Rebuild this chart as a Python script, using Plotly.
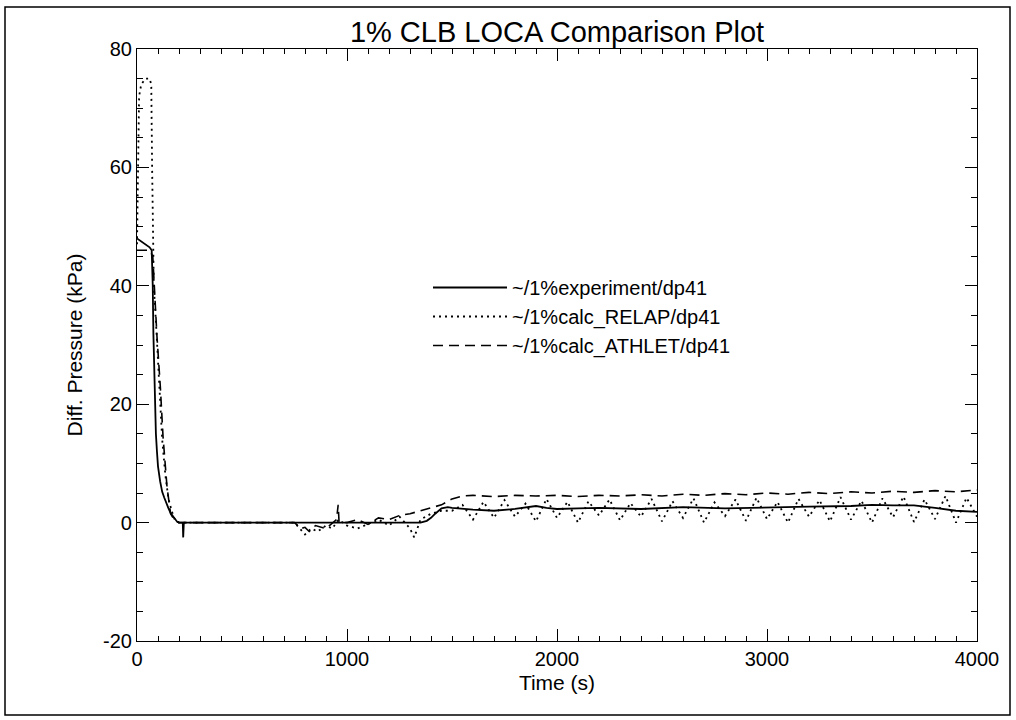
import plotly.graph_objects as go

# ---- data ----
exp_t = [0, 20, 40, 60, 70, 75, 78, 82, 86, 90, 95, 100, 110, 120, 130, 140, 150, 160, 175, 190, 200, 218, 220, 223, 250,
         500, 800, 1000, 1200, 1300, 1350, 1380, 1400, 1420, 1450, 1480, 1500, 1600, 1700, 1800, 1900, 1950, 2000,
         2100, 2200, 2400, 2600, 2800, 3000, 3200, 3400, 3500, 3600, 3700, 3800, 3900, 4000]
exp_v = [48, 47.5, 47, 46.5, 46, 40, 32, 24, 19, 15, 12, 9.5, 7, 5.2, 4.2, 3.2, 2.4, 1.6, 0.8, 0.2, 0, 0, -2.5, 0, 0,
         0, 0, 0, 0, 0, 0, 0.3, 0.8, 1.5, 2.4, 2.6, 2.5, 2.2, 2.0, 2.3, 2.8, 2.5, 2.3,
         2.4, 2.5, 2.3, 2.6, 2.4, 2.6, 2.7, 2.8, 3.0, 2.9, 2.9, 2.5, 2.0, 1.8]

athlet_t = [0, 60, 75, 85, 95, 111, 124, 143, 160, 180, 200, 750, 780, 800, 820, 850, 900, 950, 958, 962, 966, 1000,
            1050, 1100, 1150, 1200, 1250, 1300, 1350, 1400, 1450, 1500, 1550, 1600, 1700, 1800, 1900, 2000, 2100,
            2200, 2300, 2400, 2500, 2600, 2700, 2800, 2900, 3000, 3100, 3200, 3300, 3400, 3500, 3600, 3700, 3800,
            3900, 4000]
athlet_v = [46, 46, 45, 38, 31.5, 23, 14.5, 6, 1.5, 0.3, 0, 0, -1, -0.8, -1.5, -0.5, -1, 0.5, 3, 0.2, 0.2, 0,
            0.5, -0.3, 0.8, 0.5, 1.2, 1.5, 2.0, 2.5, 3.0, 4.0, 4.5, 4.6, 4.4, 4.6, 4.5, 4.6, 4.4,
            4.6, 4.5, 4.7, 4.5, 4.8, 4.6, 4.9, 4.7, 5.0, 4.8, 5.1, 4.9, 5.2, 5.0, 5.3, 5.1, 5.4,
            5.2, 5.5]

relap_t = [0, 5, 10, 20, 40, 60, 68, 72, 76, 80, 90, 100, 110, 120, 135, 150, 165, 180, 200, 750, 780, 800, 830, 860,
           900, 930, 960, 1000, 1050, 1100, 1150, 1200, 1250, 1300, 1320, 1350, 1400, 1450, 1500, 1550,
           1600, 1650, 1700, 1750, 1800, 1850, 1900, 1950, 2000, 2050, 2100, 2150, 2200, 2250, 2300, 2350,
           2400, 2450, 2500, 2550, 2600, 2650, 2700, 2750, 2800, 2850, 2900, 2950, 3000, 3050, 3100, 3150,
           3200, 3250, 3300, 3350, 3400, 3450, 3500, 3550, 3600, 3650, 3700, 3750, 3800, 3850, 3900, 3950, 4000]
relap_v = [47, 60, 72, 74, 75, 75, 74, 60, 45, 40, 34, 27, 20, 14, 8, 4, 2, 0.5, 0, 0, -1.2, -2, -1, -1.5,
           -0.5, -1, 0.5, -0.5, -1, -0.2, 0.5, -0.5, 1, -1, -2.5, 0.5, 1.5, 2.0, 2.0, 3.0,
           0.5, 3.5, 0.8, 3.8, 1.0, 3.2, 0.2, 4.0, 0.8, 3.5, 0.0, 3.6, 1.2, 3.9, 0.4, 3.3,
           1.0, 4.0, 0.2, 3.6, 0.8, 4.1, 0.0, 3.4, 1.1, 3.9, 0.3, 4.2, 0.6, 3.5, 0.0, 4.0,
           1.0, 3.8, 0.2, 4.3, 0.5, 3.7, 0.0, 4.1, 0.9, 4.4, 0.1, 3.9, 0.6, 4.5, 0.0, 4.2, 1.0]

series_names = ["~/1%experiment/dp41", "~/1%calc_RELAP/dp41", "~/1%calc_ATHLET/dp41"]
x_ticks = [0, 1000, 2000, 3000, 4000]
y_ticks = [-20, 0, 20, 40, 60, 80]

FONT = "Arial, Liberation Sans, Helvetica, sans-serif"

W, H = 1016, 720
PL, PR, PT, PB = 137, 977, 49, 641          # plot area in page pixels
pw, ph = PR - PL, PB - PT


def px_x(p):
    return (p - PL) / pw


def px_y(p):
    return (PB - p) / ph


fig = go.Figure()
fig.add_trace(go.Scatter(x=exp_t, y=exp_v, mode="lines", name=series_names[0],
                         line=dict(color="black", width=1.8)))
fig.add_trace(go.Scatter(x=relap_t, y=relap_v, mode="lines", name=series_names[1],
                         line=dict(color="black", width=1.8, dash="2px,4px")))
fig.add_trace(go.Scatter(x=athlet_t, y=athlet_v, mode="lines", name=series_names[2],
                         line=dict(color="black", width=1.6, dash="10px,6px")))

axis_common = dict(
    showgrid=False, zeroline=False, showline=True, linecolor="black", linewidth=1.2,
    mirror="ticks", ticks="inside", ticklen=12, tickwidth=1.2, tickcolor="black",
    tickfont=dict(family=FONT, size=20, color="black"),
)

fig.update_xaxes(range=[0, 4000], tickvals=x_ticks,
                 minor=dict(dtick=100, ticks="inside", ticklen=5, tickwidth=1, tickcolor="black"),
                 title=dict(text="Time (s)", font=dict(family=FONT, size=21, color="black"), standoff=6),
                 **axis_common)
fig.update_yaxes(range=[-20, 80], tickvals=y_ticks, ticktext=[str(v) for v in y_ticks],
                 minor=dict(dtick=5, ticks="inside", ticklen=6, tickwidth=1, tickcolor="black"),
                 title=dict(text="Diff. Pressure (kPa)", font=dict(family=FONT, size=21, color="black"), standoff=14),
                 **axis_common)

fig.update_layout(
    width=W, height=H,
    margin=dict(l=PL, r=W - PR, t=PT, b=H - PB, autoexpand=False),
    paper_bgcolor="white", plot_bgcolor="white",
    title=dict(text="1% CLB LOCA Comparison Plot", x=0.5, xref="paper", xanchor="center",
               y=1 - 32 / H, yref="container", yanchor="middle",
               font=dict(family=FONT, size=29, color="black")),
    legend=dict(x=px_x(428), y=px_y(268), xanchor="left", yanchor="top", bgcolor="rgba(0,0,0,0)",
                font=dict(family=FONT, size=20, color="black"), itemwidth=74, borderwidth=0,
                tracegroupgap=0),
    showlegend=True,
    shapes=[dict(type="rect", xref="paper", yref="paper",
                 x0=px_x(5), x1=px_x(1010), y0=px_y(715), y1=px_y(7),
                 line=dict(color="black", width=1.5), fillcolor="rgba(0,0,0,0)", layer="below")],
)

fig.write_html("out.html", config={"displayModeBar": False},
               post_script="document.body.style.margin='0';document.body.style.overflow='hidden';")
